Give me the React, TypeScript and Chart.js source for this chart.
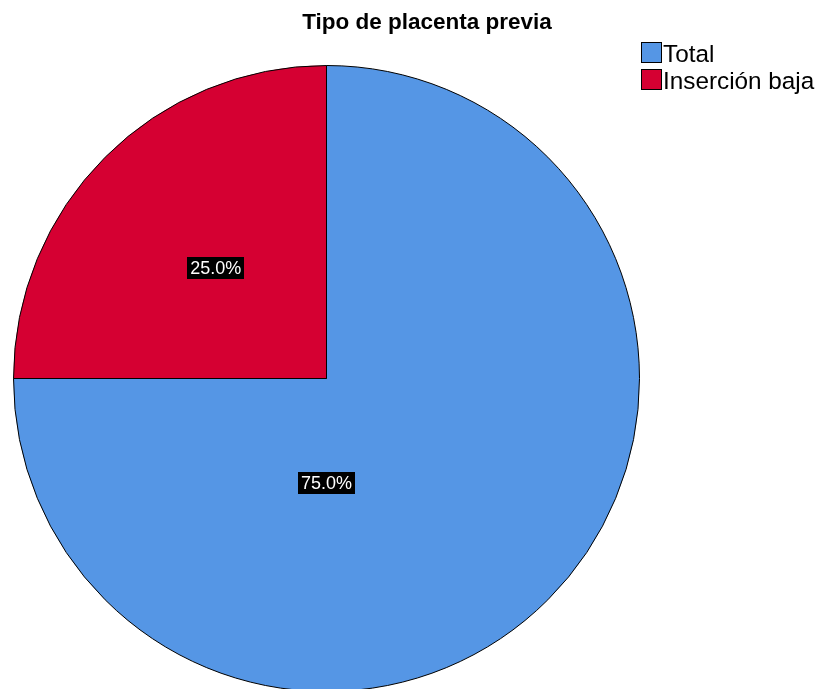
import React, { useEffect, useRef } from "react";
import { Chart, registerables } from "chart.js";

Chart.register(...registerables);

const titleText = "Tipo de placenta previa";
const categories = ["Total", "Inserción baja"];
const percentages = [75.0, 25.0];
const sliceColors = ["#5596E5", "#D50032"];

const overlayPlugin = {
  id: "spssOverlay",
  afterDatasetsDraw(chart: any) {
    const ctx = chart.ctx;
    const meta = chart.getDatasetMeta(0);
    ctx.save();
    // percentage labels
    meta.data.forEach((arc: any, i: number) => {
      const props = arc.getProps(["x", "y", "startAngle", "endAngle", "outerRadius"], true);
      let px: number, py: number;
      const span = props.endAngle - props.startAngle;
      if (span > Math.PI) {
        // large slice: SPSS puts the label below the centre
        px = props.x;
        py = props.y + props.outerRadius * 0.334;
      } else {
        const mid = (props.startAngle + props.endAngle) / 2;
        px = props.x + Math.cos(mid) * props.outerRadius * 0.5;
        py = props.y + Math.sin(mid) * props.outerRadius * 0.5;
      }
      const txt = percentages[i].toFixed(1) + "%";
      ctx.font = "18px 'Liberation Sans', Arial, sans-serif";
      const w = ctx.measureText(txt).width + 6;
      const h = 22;
      ctx.fillStyle = "#000000";
      ctx.fillRect(Math.round(px - w / 2), Math.round(py - h / 2), Math.round(w), h);
      ctx.fillStyle = "#ffffff";
      ctx.textAlign = "center";
      ctx.textBaseline = "middle";
      ctx.fillText(txt, px, py + 1);
    });
    // title
    ctx.fillStyle = "#000000";
    ctx.font = "bold 22.5px 'Liberation Sans', Arial, sans-serif";
    ctx.textAlign = "center";
    ctx.textBaseline = "alphabetic";
    ctx.fillText(titleText, 427, 29);
    // legend
    ctx.font = "24.3px 'Liberation Sans', Arial, sans-serif";
    ctx.textAlign = "left";
    categories.forEach((c, i) => {
      const y = 42 + i * 27;
      ctx.fillStyle = sliceColors[i];
      ctx.fillRect(641, y, 21, 21);
      ctx.strokeStyle = "#000000";
      ctx.lineWidth = 1;
      ctx.strokeRect(641.5, y + 0.5, 20, 20);
      ctx.fillStyle = "#000000";
      ctx.fillText(c, 663, y + 20);
    });
    ctx.restore();
  },
};

export default function App() {
  const ref = useRef<HTMLCanvasElement | null>(null);
  useEffect(() => {
    if (!ref.current) return;
    const chart = new Chart(ref.current, {
      type: "pie",
      data: {
        labels: categories,
        datasets: [
          {
            data: percentages,
            backgroundColor: sliceColors,
            borderColor: "#000000",
            borderWidth: 1,
          },
        ],
      },
      options: {
        responsive: false,
        animation: false,
        layout: { padding: { left: 13, right: 182, top: 65, bottom: 0 } },
        plugins: {
          legend: { display: false },
          title: { display: false },
          tooltip: { enabled: false },
        },
      },
      plugins: [overlayPlugin],
    });
    return () => chart.destroy();
  }, []);
  return (
    <div
      style={{
        position: "absolute",
        left: 0,
        top: 0,
        width: 822,
        height: 689,
        overflow: "hidden",
        background: "#ffffff",
      }}
    >
      <canvas ref={ref} width={822} height={692} style={{ display: "block" }} />
    </div>
  );
}
